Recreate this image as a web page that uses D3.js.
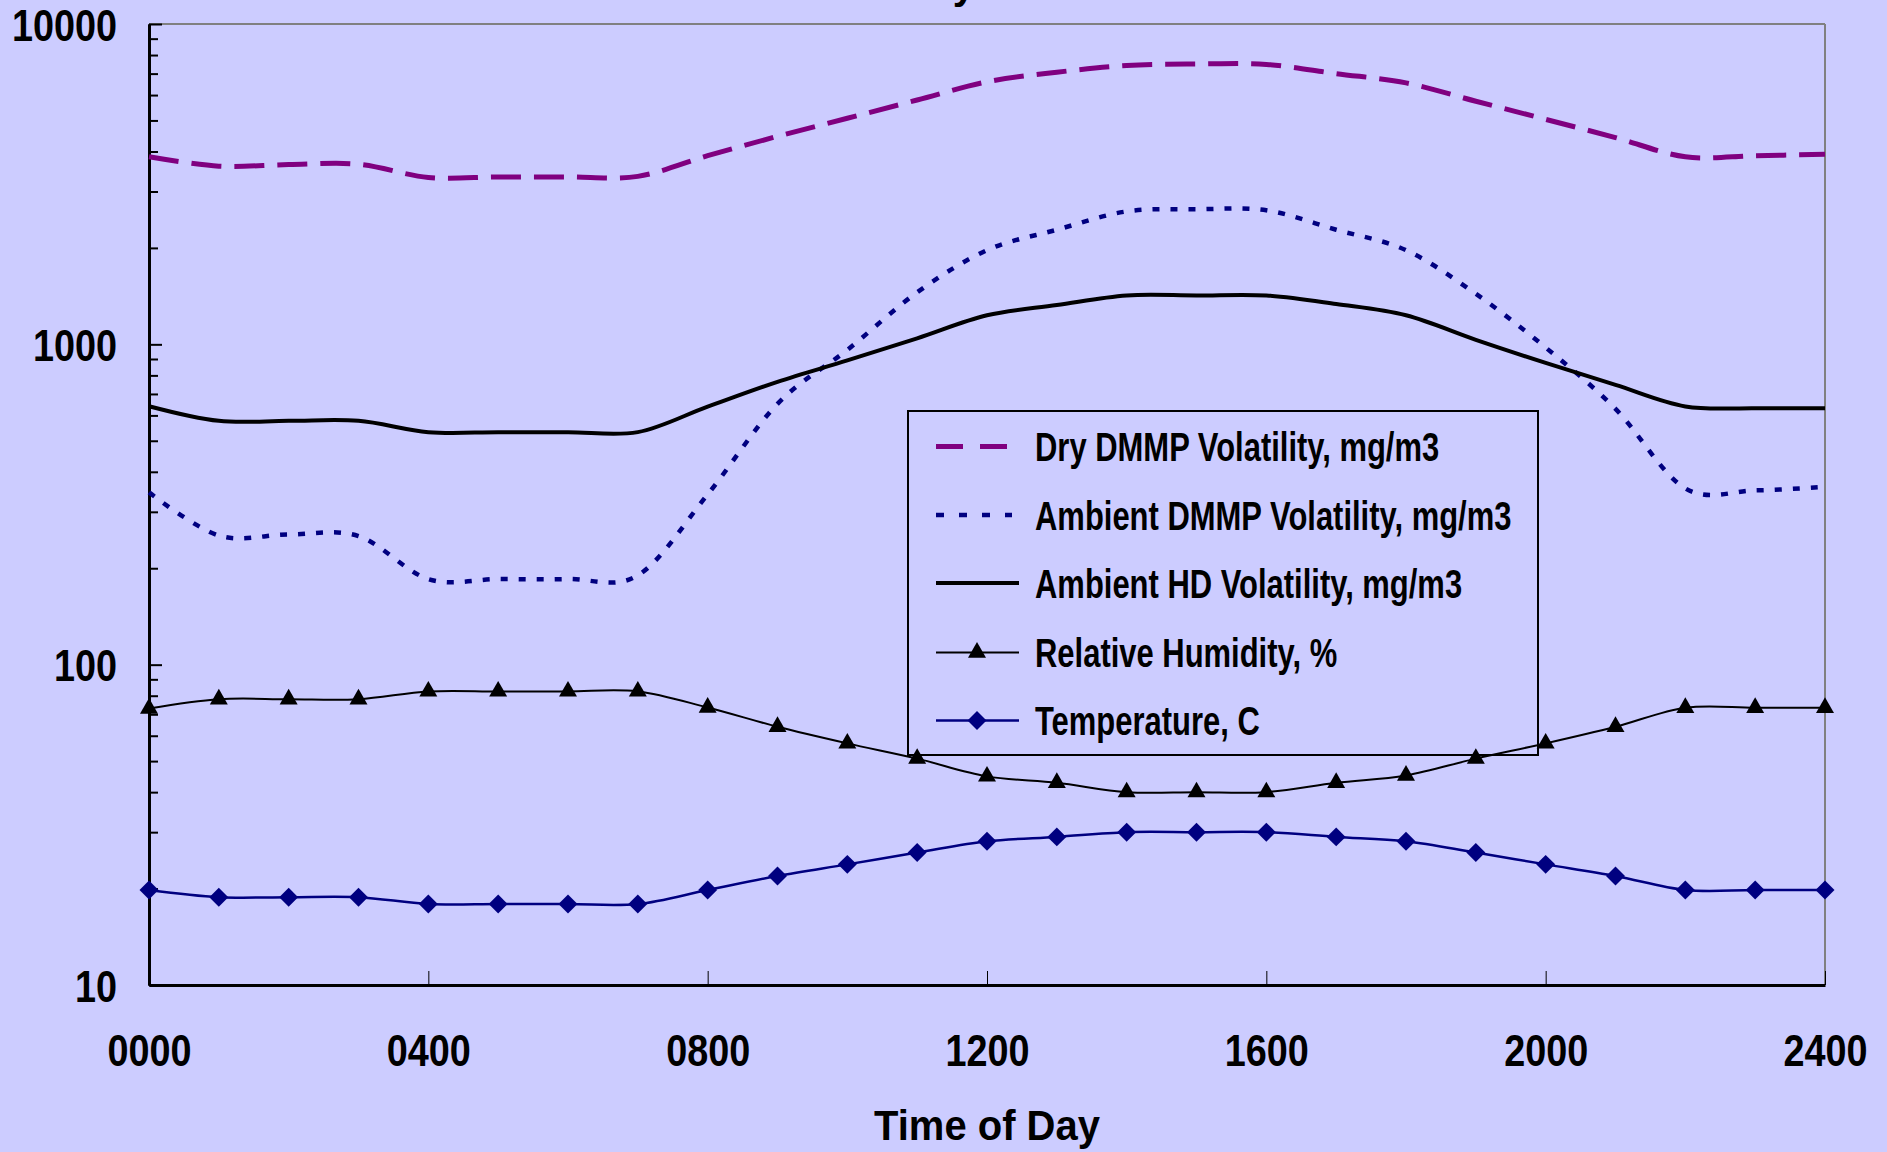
<!DOCTYPE html>
<html>
<head>
<meta charset="utf-8">
<style>
    body { margin: 0; background: #ccccff; }
    svg { display: block; font-family: Arial, 'Liberation Sans', sans-serif; font-weight: bold; }
    .axis .domain { stroke: #000; stroke-width: 3px; }
    .axis .tick line { stroke: #000; }
    .y .tick line { stroke-width: 2px; }
    .x .tick line { stroke-width: 1px; }
    .axis text { fill: #000; font-weight: bold; }
</style>
</head>
<body>
<svg width="1887" height="1152"></svg>
<script src="https://d3js.org/d3.v7.min.js"></script>
<script>
    // hourly readings, 0000 to 2400
    let hours = d3.range(0, 25)
    let dryDMMP = [3850, 3600, 3640, 3650, 3320, 3330, 3330, 3345, 3880, 4460, 5080, 5790, 6600, 7070, 7420, 7500, 7480, 7000, 6550, 5740, 5040, 4420, 3850, 3880, 3920]
    let ambDMMP = [345, 253, 255, 252, 185, 185, 185, 190, 340, 652, 961, 1453, 1967, 2279, 2600, 2640, 2620, 2279, 1967, 1438, 977, 629, 355, 350, 359]
    let hdVol = [641, 577, 577, 577, 532, 532, 532, 532, 639, 764, 891, 1044, 1232, 1326, 1421, 1421, 1421, 1336, 1232, 1033, 875, 747, 640, 632, 632]
    let humidity = [73, 78, 78, 78, 82.5, 82.5, 82.5, 82.5, 73.5, 64, 56.8, 50.9, 44.8, 42.8, 40, 40, 40, 42.8, 45.1, 50.9, 56.8, 64, 73.4, 73.4, 73.4]
    let temperature = [19.8, 18.8, 18.8, 18.8, 17.9, 17.9, 17.9, 17.9, 19.8, 21.9, 23.8, 25.9, 28.1, 29, 30, 30, 30, 29, 28.1, 25.9, 23.8, 21.9, 19.8, 19.8, 19.8]

    let seriesNames = ["Dry DMMP Volatility, mg/m3", "Ambient DMMP Volatility, mg/m3", "Ambient HD Volatility, mg/m3", "Relative Humidity, %", "Temperature, C"]
    let xTickHours = [0, 4, 8, 12, 16, 20, 24]
    let xTickLabels = ["0000", "0400", "0800", "1200", "1600", "2000", "2400"]
    let yMajor = [10, 100, 1000, 10000]
    let yMinor = [2, 3, 4, 5, 6, 7, 8, 9].flatMap(m => [10, 100, 1000].map(d => m * d))

    let svg = d3.select("svg")
    let margin = { top: 24, right: 62, bottom: 167, left: 149 }
    let width = 1887, height = 1152

    let x = d3.scaleLinear()
        .domain([0, 24])
        .range([margin.left, width - margin.right])

    let y = d3.scaleLog()
        .domain([10, 10000])
        .range([height - margin.bottom, margin.top])

    // squeeze text horizontally (the original lettering is narrow)
    function squeeze(sel, f) {
        sel.each(function () {
            let w = this.getComputedTextLength()
            this.setAttribute("textLength", w * f)
            this.setAttribute("lengthAdjust", "spacingAndGlyphs")
        })
    }

    // chart title, cut off by the top edge like the original: only the descender shows
    svg.append("text")
        .attr("x", 975)
        .attr("y", -1)
        .attr("text-anchor", "end")
        .style("font-size", "40px")
        .text("Volatility")

    // frame: top and right in grey
    svg.append("line")
        .attr("x1", x(0)).attr("x2", x(24))
        .attr("y1", y(10000)).attr("y2", y(10000))
        .style("stroke", "#808080").style("stroke-width", "2px")
    svg.append("line")
        .attr("x1", x(24)).attr("x2", x(24))
        .attr("y1", y(10000)).attr("y2", y(10))
        .style("stroke", "#808080").style("stroke-width", "2px")

    // legend box under the lines
    let legend = svg.append("g").attr("transform", "translate(908,411)")
    legend.append("rect")
        .attr("width", 630)
        .attr("height", 344)
        .style("fill", "none")
        .style("stroke", "#000")
        .style("stroke-width", "2px")

    // axes
    let yMinorAxis = svg.append("g")
        .attr("class", "y axis")
        .attr("transform", `translate(${x(0)},0)`)
        .call(d3.axisLeft(y).tickValues(yMinor).tickSize(-9).tickSizeOuter(0).tickFormat(""))

    let yAxis = svg.append("g")
        .attr("class", "y axis")
        .attr("transform", `translate(${x(0)},0)`)
        .call(d3.axisLeft(y).tickValues(yMajor).tickSize(-13).tickSizeOuter(0).tickPadding(32).tickFormat(d3.format("d")))
    yAxis.selectAll("text")
        .attr("dy", "0.36em")
        .style("font-size", "45px")
        .call(squeeze, 0.84)

    let xAxis = svg.append("g")
        .attr("class", "x axis")
        .attr("transform", `translate(0,${y(10)})`)
        .call(d3.axisBottom(x).tickValues(xTickHours).tickSize(-14).tickSizeOuter(0)
            .tickFormat((d, i) => xTickLabels[i]))
    xAxis.selectAll("text")
        .attr("y", 81)
        .attr("dy", 0)
        .style("font-size", "45px")
        .call(squeeze, 0.84)

    svg.append("text")
        .attr("x", (x(0) + x(24)) / 2)
        .attr("y", 1140)
        .attr("text-anchor", "middle")
        .style("font-size", "43px")
        .text("Time of Day")
        .call(squeeze, 0.93)

    // lines
    let series = [
        { name: seriesNames[0], values: dryDMMP, color: "#800080", width: 5, dash: "30,13", legendDash: "27,17", marker: null },
        { name: seriesNames[1], values: ambDMMP, color: "#000080", width: 4.5, dash: "7,11", legendDash: "8,15", marker: null },
        { name: seriesNames[2], values: hdVol, color: "#000000", width: 4, dash: null, legendDash: null, marker: null },
        { name: seriesNames[3], values: humidity, color: "#000000", width: 2, dash: null, legendDash: null, marker: "triangle" },
        { name: seriesNames[4], values: temperature, color: "#000080", width: 2.5, dash: null, legendDash: null, marker: "diamond" }
    ]

    let line = d3.line()
        .curve(d3.curveCatmullRom.alpha(0))
        .x(d => x(d[0]))
        .y(d => y(d[1]))

    let triangle = d3.symbol().type(d3.symbolTriangle).size(140)
    let square = d3.symbol().type(d3.symbolSquare).size(180)

    function marker(sel, kind, color) {
        if (kind == "triangle") {
            sel.attr("d", triangle).style("fill", color)
        } else {
            sel.attr("d", square).style("fill", color)
        }
    }

    series.forEach(function (s) {
        let pts = hours.map((h, i) => [h, s.values[i]])
        svg.append("path")
            .datum(pts)
            .attr("d", line)
            .style("fill", "none")
            .style("stroke", s.color)
            .style("stroke-width", s.width + "px")
            .style("stroke-dasharray", s.dash)

        if (s.marker) {
            svg.append("g")
                .selectAll("path")
                .data(pts)
                .join("path")
                .attr("transform", d => `translate(${x(d[0])},${y(d[1])})` + (s.marker == "diamond" ? " rotate(45)" : ""))
                .call(marker, s.marker, s.color)
        }
    })

    // legend entries
    let rowY = [35.5, 104, 172, 241.5, 309.5]
    let entry = legend.selectAll(".entry")
        .data(series)
        .join("g")
        .attr("class", "entry")
        .attr("transform", (d, i) => `translate(0,${rowY[i]})`)

    entry.append("line")
        .attr("x1", 28)
        .attr("x2", d => d.legendDash ? 104 : 111)
        .style("stroke", d => d.color)
        .style("stroke-width", d => d.width + "px")
        .style("stroke-dasharray", d => d.legendDash)

    entry.filter(d => d.marker)
        .append("path")
        .attr("transform", d => "translate(69,0)" + (d.marker == "diamond" ? " rotate(45)" : ""))
        .each(function (d) { d3.select(this).call(marker, d.marker, d.color) })

    entry.append("text")
        .attr("x", 127)
        .attr("dy", "0.36em")
        .style("font-size", "41px")
        .text(d => d.name)
        .call(squeeze, 0.755)
</script>
</body>
</html>
